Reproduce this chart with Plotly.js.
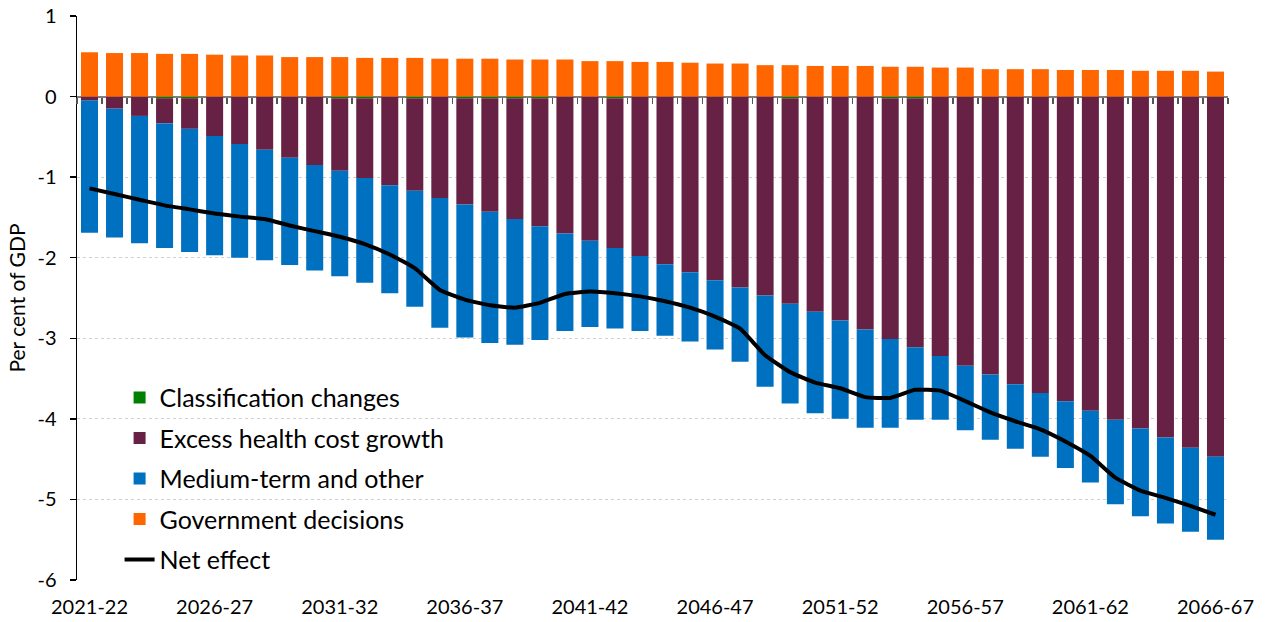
<!DOCTYPE html>
<html><head><meta charset="utf-8">
<script src="https://cdn.plot.ly/plotly-3.0.1.min.js"></script>
<style>html,body{margin:0;padding:0;background:#fff}#chart{width:1268px;height:622px}</style>
</head><body><div id="chart"></div>
<script>
const years = ['2021-22','2022-23','2023-24','2024-25','2025-26','2026-27','2027-28','2028-29','2029-30','2030-31',
  '2031-32','2032-33','2033-34','2034-35','2035-36','2036-37','2037-38','2038-39','2039-40','2040-41',
  '2041-42','2042-43','2043-44','2044-45','2045-46','2046-47','2047-48','2048-49','2049-50','2050-51',
  '2051-52','2052-53','2053-54','2054-55','2055-56','2056-57','2057-58','2058-59','2059-60','2060-61',
  '2061-62','2062-63','2063-64','2064-65','2065-66','2066-67'];
const tickLabels = ['2021-22','2026-27','2031-32','2036-37','2041-42','2046-47','2051-52','2056-57','2061-62','2066-67'];
const yTickVals = [1,0,-1,-2,-3,-4,-5,-6];
const yTickText = ['1','0','-1','-2','-3','-4','-5','-6'];

const classificationChanges = [0,0,0,-0.02,-0.02,0,0,0,0,0,
  -0.02,-0.02,0,-0.02,0,-0.02,-0.02,-0.02,-0.02,0,
  0,-0.02,0,0,0,0,0,0,-0.02,0,
  0,0,-0.02,-0.02,0,0,0,0,0,0,
  0,0,0,0,0,0];
const excessHealth = [-0.05,-0.15,-0.24,-0.31,-0.38,-0.49,-0.59,-0.66,-0.76,-0.85,
  -0.90,-0.99,-1.10,-1.15,-1.26,-1.32,-1.41,-1.50,-1.59,-1.70,
  -1.79,-1.86,-1.98,-2.08,-2.18,-2.28,-2.37,-2.47,-2.55,-2.67,
  -2.78,-2.89,-2.99,-3.09,-3.22,-3.34,-3.45,-3.57,-3.68,-3.78,
  -3.90,-4.01,-4.12,-4.23,-4.36,-4.47];
const mediumTerm = [-1.64,-1.60,-1.58,-1.55,-1.53,-1.48,-1.41,-1.37,-1.33,-1.31,
  -1.31,-1.30,-1.34,-1.44,-1.61,-1.65,-1.63,-1.56,-1.41,-1.21,
  -1.07,-1.00,-0.93,-0.89,-0.86,-0.86,-0.92,-1.13,-1.24,-1.26,
  -1.22,-1.22,-1.10,-0.90,-0.79,-0.80,-0.81,-0.80,-0.79,-0.83,
  -0.89,-1.05,-1.09,-1.07,-1.04,-1.03];
const govDecisions = [0.55,0.54,0.54,0.53,0.53,0.52,0.51,0.51,0.49,0.49,
  0.49,0.48,0.48,0.48,0.47,0.47,0.47,0.46,0.46,0.46,
  0.44,0.44,0.43,0.43,0.42,0.41,0.41,0.39,0.39,0.38,
  0.38,0.38,0.37,0.37,0.36,0.36,0.34,0.34,0.34,0.33,
  0.33,0.33,0.32,0.32,0.32,0.31];
const netEffect = [-1.14,-1.21,-1.28,-1.35,-1.40,-1.45,-1.49,-1.52,-1.60,-1.67,
  -1.74,-1.83,-1.96,-2.13,-2.40,-2.52,-2.59,-2.62,-2.56,-2.45,
  -2.42,-2.44,-2.48,-2.54,-2.62,-2.73,-2.88,-3.21,-3.42,-3.55,
  -3.62,-3.73,-3.74,-3.64,-3.65,-3.78,-3.92,-4.03,-4.13,-4.28,
  -4.46,-4.73,-4.89,-4.98,-5.08,-5.19];

const FONT = 'Lato, "Noto Sans", sans-serif';
function barTrace(name, values, color, group) {
  return {type:'bar', name:name, x:years, y:values, marker:{color:color, line:{width:0}},
          legendgroup:group, hoverinfo:'skip'};
}
const data = [
  barTrace('Classification changes', classificationChanges, '#008000', 'g1'),
  barTrace('Excess health cost growth', excessHealth, '#672144', 'g2'),
  barTrace('Medium-term and other', mediumTerm, '#0070C0', 'g3'),
  barTrace('Government decisions', govDecisions, '#FF6600', 'g4'),
  {type:'scatter', mode:'lines', name:'Net effect', x:years, y:netEffect, xaxis:'x2',
   line:{color:'#000000', width:4, shape:'spline', smoothing:0.4}, legendgroup:'g5', hoverinfo:'skip'}
];

const layout = {
  width:1268, height:622,
  margin:{l:77, r:40, t:16, b:42, pad:0},
  paper_bgcolor:'#ffffff', plot_bgcolor:'#ffffff',
  font:{family:FONT, color:'#000000', size:18},
  barmode:'relative', bargap:0.32,
  hovermode:false,
  showlegend:true,
  legend:{x:0.037, y:0.364, xanchor:'left', yanchor:'top', bgcolor:'rgba(0,0,0,0)',
          font:{family:FONT, size:25, color:'#000000'}, traceorder:'grouped', tracegroupgap:5},
  xaxis:{type:'category', categoryorder:'array', categoryarray:years,
         tickmode:'array', tickvals:tickLabels, ticktext:tickLabels,
         ticks:'', showgrid:false, showline:false, zeroline:false,
         ticklabelstandoff:13,
         tickfont:{family:FONT, size:20, color:'#000000'}, fixedrange:true},
  xaxis2:{type:'category', categoryorder:'array', categoryarray:years, matches:'x',
          overlaying:'x', anchor:'free', position:6/7, side:'bottom',
          tickmode:'linear', tick0:0, dtick:1, tickson:'boundaries',
          ticks:'outside', ticklen:6, tickwidth:1.5, tickcolor:'#555555',
          showticklabels:false, showgrid:false, showline:false, zeroline:false},
  yaxis:{range:[-6,1], tickmode:'array', tickvals:yTickVals, ticktext:yTickText,
         showline:true, linecolor:'#000000', linewidth:1.5,
         ticks:'outside', ticklen:6, tickcolor:'#000000', tickwidth:1.5,
         ticklabelstandoff:9,
         showgrid:true, gridcolor:'#d0d0d0', griddash:'dot', gridwidth:1,
         zeroline:true, zerolinecolor:'#7f7f7f', zerolinewidth:2,
         layer:'above traces',
         tickfont:{family:FONT, size:20, color:'#000000'},
         title:{text:'Per cent of GDP', font:{family:FONT, size:21, color:'#000000'}, standoff:6}}
};

Plotly.newPlot('chart', data, layout, {displayModeBar:false, staticPlot:true});
</script>
</body></html>
